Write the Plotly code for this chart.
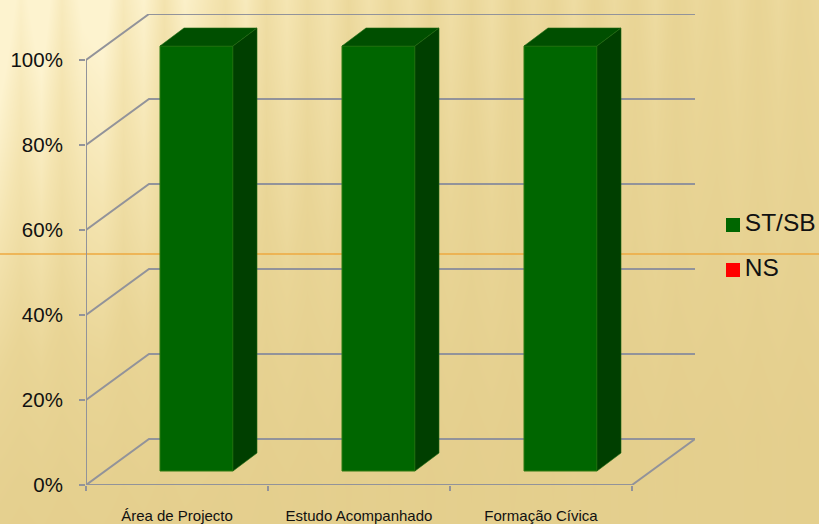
import plotly.graph_objects as go

categories = ["Área de Projecto", "Estudo Acompanhado", "Formação Cívica"]
st_sb = [100, 100, 100]
ns = [0, 0, 0]
series_names = ["ST/SB", "NS"]
series_colors = ["#006600", "#ff0000"]
y_ticks = [0, 20, 40, 60, 80, 100]
y_labels = ["0%", "20%", "40%", "60%", "80%", "100%"]

# Chart geometry, in axis units (one category = 1, one percent = 1)
W, H = 819, 524
PX_X, PX_Y = 182.0, 4.25
DEPTH_X, DEPTH_Y = 63 / PX_X, 46 / PX_Y
BAR_W = 73 / PX_X
BAR_DX, BAR_DY = 24 / PX_X, 18 / PX_Y
BAR_X0 = 74 / PX_X
BAR_BASE = 14 / PX_Y
n = len(categories)

GRID = "#92939a"
FRONT, TOP, SIDE = series_colors[0], "#004f00", "#003f00"

# Background texture: brightness by row (bottom to top), fade and stripes by column
row_light = [0.10, 0.14, 0.20, 0.27, 0.35, 0.44, 0.53, 0.62, 0.70, 0.78, 0.85, 0.93, 1.0]
col_fade = [1.0, .98, .96, .94, .92, .90, .87, .84, .81, .78, .75, .72, .70, .67,
            .65, .63, .61, .59, .57, .56, .54, .53, .52, .51, .50, .49, .48, .47,
            .46, .45, .45, .44, .43, .43, .42, .42, .41, .41, .40, .40, .40]
col_stripe = [.20, -.05, .18, -.12, .12, .20, -.08, .14, -.14, .16, .02, -.12, .12, -.14,
              .08, -.12, .06, -.16, .06, -.12, .04, -.16, .04, -.12, .06, -.14, .00, -.12,
              .06, -.12, .02, -.10, .06, -.12, .00, -.08, .04, -.10, .04, -.08, .00]
bg = [[max(r * f, 0.08) + s * r for f, s in zip(col_fade, col_stripe)] for r in row_light]

fig = go.Figure()
fig.add_trace(go.Heatmap(
    z=bg, x0=0, dx=W / (len(col_stripe) - 1), y0=0, dy=H / (len(row_light) - 1),
    zmin=0, zmax=1, zsmooth="best", showscale=False, hoverinfo="skip",
    colorscale=[[0, "#e3cd8b"], [0.35, "#e9d596"], [0.7, "#f4e4b0"], [1, "#fdf3cf"]],
    xaxis="x", yaxis="y"))
fig.add_trace(go.Scatter(x=[0, W], y=[H - 254, H - 254], mode="lines", showlegend=False,
                         line=dict(color="#eea93f", width=1.5), hoverinfo="skip",
                         xaxis="x", yaxis="y"))

# Legend entries
for name, color, ly in zip(series_names, series_colors, [225, 270]):
    fig.add_trace(go.Scatter(x=[733], y=[H - ly], mode="markers+text", text=["\u200a" + name],
                             textposition="middle right", textfont=dict(size=24.5, family="Liberation Sans", color="#111111"),
                             marker=dict(symbol="square", size=14, color=color, line=dict(width=0)),
                             showlegend=False, hoverinfo="skip", cliponaxis=False, xaxis="x", yaxis="y"))


def layer_trace(ax, ay, **kw):
    fig.add_trace(go.Scatter(xaxis=ax, yaxis=ay, showlegend=False, hoverinfo="skip", cliponaxis=False, **kw))


# Walls, floor and gridlines (below the bars)
for t in y_ticks:
    layer_trace("x2", "y2", x=[0, DEPTH_X, n + DEPTH_X], y=[t, t + DEPTH_Y, t + DEPTH_Y], mode="lines",
                line=dict(color=GRID, width=2))
layer_trace("x2", "y2", x=[0, 0, n, n + DEPTH_X], y=[100, 0, 0, DEPTH_Y], mode="lines",
            line=dict(color=GRID, width=2))

xs = [i + BAR_X0 + BAR_W / 2 for i in range(n)]

# Front faces, through the library's bars
fig.add_trace(go.Bar(x=xs, y=st_sb, base=BAR_BASE, width=BAR_W, name=series_names[0], showlegend=False,
                     marker=dict(color=FRONT, line=dict(color="#2c7a10", width=1)),
                     hoverinfo="skip", xaxis="x3", yaxis="y3"))
fig.add_trace(go.Bar(x=xs, y=ns, base=[BAR_BASE + v for v in st_sb], width=BAR_W, name=series_names[1],
                     showlegend=False, marker=dict(color=series_colors[1], line=dict(width=0)),
                     hoverinfo="skip", xaxis="x3", yaxis="y3"))

# Top and side faces of each bar
for x, v in zip(xs, st_sb):
    l, r = x - BAR_W / 2, x + BAR_W / 2
    b, t = BAR_BASE, BAR_BASE + v
    layer_trace("x3", "y3", x=[l, r, r + BAR_DX, l + BAR_DX, l], y=[t, t, t + BAR_DY, t + BAR_DY, t],
                mode="lines", fill="toself", fillcolor=TOP, line=dict(color="#1f6a10", width=0.6))
    layer_trace("x3", "y3", x=[r, r + BAR_DX, r + BAR_DX, r, r], y=[b, b + BAR_DY, t + BAR_DY, t, b],
                mode="lines", fill="toself", fillcolor=SIDE, line=dict(color="#1f6a10", width=0.6))

FONT = "Liberation Sans"
x_dom = [86 / W, 695 / W]
y_dom = [(H - 485) / H, (H - 14) / H]
x_rng = [0, n + DEPTH_X]
y_rng = [0, 100 + DEPTH_Y]
fig.update_layout(
    width=W, height=H, margin=dict(l=0, r=0, t=0, b=0, autoexpand=False), barmode="overlay",
    paper_bgcolor="#ead69a", plot_bgcolor="rgba(0,0,0,0)",
    font=dict(family=FONT, color="#111111"),
    showlegend=False, hovermode=False,
    xaxis=dict(domain=[0, 1], range=[0, W], visible=False, fixedrange=True, automargin=False),
    yaxis=dict(domain=[0, 1], range=[0, H], visible=False, fixedrange=True, automargin=False),
    xaxis2=dict(domain=x_dom, range=x_rng, anchor="y2", visible=False, automargin=False),
    yaxis2=dict(domain=y_dom, range=y_rng, anchor="x2", visible=False, automargin=False),
    xaxis3=dict(domain=x_dom, range=x_rng, anchor="y3", showgrid=False, zeroline=False, automargin=False,
                tickmode="array", tickvals=[i + 0.5 for i in range(n)], ticktext=categories,
                ticks="", tickfont=dict(size=15, family=FONT), ticklabelstandoff=20,
                minor=dict(tickmode="array", tickvals=list(range(n + 1)), ticks="outside", ticklen=5,
                           tickcolor=GRID, tickwidth=2, showgrid=False)),
    yaxis3=dict(domain=y_dom, range=y_rng, anchor="x3", showgrid=False, automargin=False,
                zeroline=False, tickmode="array", tickvals=y_ticks, ticktext=y_labels,
                ticks="outside", ticklen=6, tickcolor=GRID, tickwidth=2, ticklabelstandoff=12,
                tickfont=dict(size=20.5, family=FONT)),
)
fig.write_html("out.html", config={"displayModeBar": False},
               post_script="document.body.style.margin='0';document.body.style.overflow='hidden';")
